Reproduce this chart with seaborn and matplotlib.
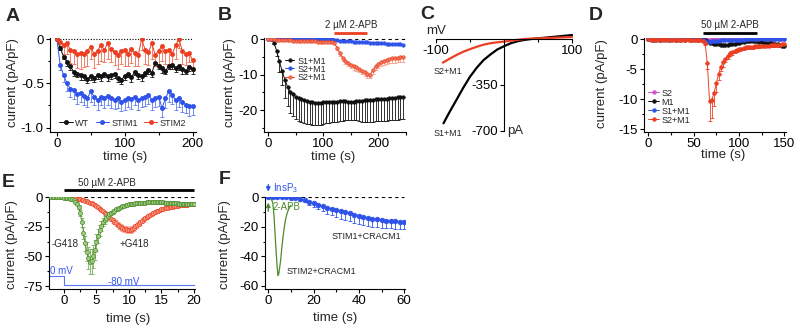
import numpy as np
import matplotlib
matplotlib.use('Agg')
import matplotlib.pyplot as plt
import seaborn as sns

# ---------------- data ----------------
# A: whole-cell current, 5 s sampling
tA = np.arange(0, 200.001, 5)
wt_A = [0.0, -0.10, -0.20, -0.26, -0.31, -0.37, -0.39, -0.41, -0.42, -0.45, -0.42, -0.44, -0.41, -0.42,
        -0.39, -0.42, -0.41, -0.39, -0.44, -0.46, -0.42, -0.39, -0.43, -0.37, -0.41, -0.42, -0.38, -0.35,
        -0.38, -0.27, -0.30, -0.33, -0.36, -0.30, -0.29, -0.33, -0.31, -0.34, -0.36, -0.32, -0.34]
wt_A_err = [0.0, 0.02, 0.03, 0.04, 0.04, 0.05, 0.04, 0.05, 0.04, 0.05, 0.04, 0.05, 0.04, 0.05, 0.04,
            0.05, 0.04, 0.05, 0.04, 0.05, 0.04, 0.04, 0.05, 0.04, 0.04, 0.05, 0.04, 0.04, 0.05, 0.04,
            0.04, 0.05, 0.04, 0.04, 0.05, 0.04, 0.04, 0.05, 0.04, 0.04, 0.05]
stim1_A = [0.0, -0.29, -0.41, -0.50, -0.56, -0.58, -0.62, -0.61, -0.64, -0.67, -0.59, -0.65, -0.69, -0.65,
           -0.67, -0.64, -0.67, -0.69, -0.67, -0.71, -0.69, -0.67, -0.68, -0.65, -0.69, -0.67, -0.65, -0.63,
           -0.69, -0.67, -0.65, -0.78, -0.67, -0.59, -0.63, -0.69, -0.67, -0.71, -0.74, -0.76, -0.76]
stim1_A_err = [0.0, 0.06, 0.08, 0.09, 0.10, 0.10, 0.11, 0.10, 0.11, 0.10, 0.12, 0.10, 0.11, 0.10, 0.11,
               0.10, 0.11, 0.10, 0.11, 0.10, 0.11, 0.10, 0.11, 0.10, 0.11, 0.10, 0.11, 0.10, 0.11, 0.10,
               0.11, 0.10, 0.11, 0.12, 0.10, 0.11, 0.10, 0.11, 0.10, 0.11, 0.10]
stim2_A = [0.0, -0.03, -0.07, -0.05, -0.12, -0.14, -0.17, -0.16, -0.17, -0.13, -0.09, -0.17, -0.13, -0.07,
           -0.12, -0.05, -0.11, -0.15, -0.18, -0.13, -0.12, -0.17, -0.11, -0.16, -0.18, 0.0, -0.12, -0.15,
           -0.05, -0.18, -0.13, -0.08, -0.14, -0.12, -0.17, -0.07, 0.0, -0.14, -0.17, -0.16, -0.24]
stim2_A_err = [0.0, 0.05, 0.10, 0.12, 0.15, 0.14, 0.16, 0.18, 0.15, 0.17, 0.14, 0.16, 0.15, 0.18, 0.14,
               0.17, 0.15, 0.14, 0.16, 0.15, 0.18, 0.14, 0.16, 0.15, 0.13, 0.12, 0.16, 0.14, 0.18, 0.13,
               0.15, 0.17, 0.14, 0.16, 0.12, 0.15, 0.10, 0.14, 0.12, 0.10, 0.12]

# B: 5 s sampling
tB = np.arange(0, 245.001, 5)
s1m1_B = [0.0, -0.1, -1.0, -3.3, -6.3, -9.0, -11.5, -13.5, -14.8, -15.6, -16.2, -16.6, -16.9, -17.2,
          -17.5, -17.7, -17.8, -17.9, -18.0, -17.9, -17.8, -17.7, -17.7, -17.6, -17.6, -17.6, -17.5,
          -17.5, -17.5, -17.6, -17.6, -17.6, -17.5, -17.5, -17.4, -17.3, -17.3, -17.2, -17.1, -17.0,
          -17.0, -16.9, -16.9, -16.8, -16.7, -16.6, -16.5, -16.4, -16.3, -16.2]
s1m1_B_err = [0.0, 0.1, 0.5, 1.5, 3.0, 4.0, 5.0, 5.5, 6.1, 6.2, 6.4, 6.4, 6.4, 6.4, 6.4, 6.3, 6.3, 6.2,
              6.2, 6.2, 6.1, 6.1, 6.0, 5.9, 5.8, 5.7, 5.6, 5.6, 5.4, 5.2, 5.1, 5.1, 5.3, 5.6, 5.9, 6.1,
              6.2, 6.2, 6.2, 6.2, 6.2, 6.2, 6.2, 6.2, 6.2, 6.2, 6.3, 6.3, 6.3, 6.3]
s2m1_B = [0.0, 0.0, 0.0, 0.0, 0.0, 0.0, 0.0, 0.0, 0.0, 0.0, 0.0, 0.0, 0.0,
          -0.1, -0.1, -0.1, -0.1, -0.1, -0.1, -0.1, -0.1, -0.1, -0.1, -0.1,
          -0.2, -0.3, -0.4, -0.5, -0.5, -0.6, -0.6, -0.7, -0.7, -0.8, -0.8, -0.9, -0.9, -1.0, -1.0,
          -1.1, -1.1, -1.2, -1.2, -1.3, -1.3, -1.4, -1.4, -1.5, -1.5, -1.6]
s2m1apb_B = [0.0, -0.1, -0.1, -0.2, -0.2, -0.2, -0.3, -0.3, -0.3, -0.4, -0.4, -0.4, -0.5, -0.5, -0.5,
             -0.6, -0.6, -0.6, -0.7, -0.7, -0.7, -0.8, -0.8, -0.9, -1.0,
             -2.5, -4.0, -5.2, -6.1, -6.7, -7.2, -7.6, -8.0, -8.4, -8.9, -9.4, -9.9, -10.0, -8.8, -7.7,
             -7.0, -6.5, -6.1, -5.8, -5.6, -5.4, -5.3, -5.2, -5.1, -5.0]
s2m1apb_B_err = [0.1, 0.1, 0.1, 0.1, 0.1, 0.1, 0.1, 0.1, 0.1, 0.1, 0.1, 0.1, 0.1, 0.1, 0.1, 0.1, 0.1,
                 0.1, 0.1, 0.1, 0.1, 0.1, 0.1, 0.1, 0.1,
                 0.5, 0.8, 1.0, 1.0, 1.0, 1.0, 1.0, 1.0, 1.0, 1.0, 1.0, 1.0, 1.0, 1.1, 1.1, 1.1, 1.1,
                 1.2, 1.2, 1.2, 1.2, 1.3, 1.3, 1.3, 1.4]
apb_B = [120, 180]

# C: current-voltage ramps
v_s1 = [-89, -80, -70, -60, -50, -40, -30, -20, -10, 0, 10, 20, 30, 40, 50, 60, 70, 80, 90, 100]
i_s1 = [-642, -555, -464, -372, -287, -218, -160, -118, -80, -55, -32, -17, -7, 0, 5, 10, 15, 20, 25, 30]
v_s2 = [-90, -80, -70, -60, -50, -40, -30, -20, -10, 0, 10, 20, 30, 40, 50, 60, 70, 80, 90, 100]
i_s2 = [-180, -150, -122, -97, -77, -59, -43, -32, -25, -20, -13, -6, 0, 3, 5, 7, 9, 11, 13, 15]

# D: 2.5 s sampling
tD = np.arange(0, 150.001, 2.5)
s2_D = [0.0, 0.0, 0.1, 0.0, 0.0, 0.0, 0.1, 0.0, 0.0, 0.0, 0.0, 0.1, 0.0, 0.0, 0.0, 0.0, 0.1, 0.0, 0.0,
        0.0, 0.0, 0.0, 0.1, 0.0,
        0.0, 0.0, 0.0, -0.1, 0.0, 0.0, 0.0, 0.0, 0.0, 0.1, 0.0, 0.0, 0.0, 0.0, 0.0, 0.0,
        0.0, 0.0, 0.1, 0.0, 0.0, 0.0, 0.0, 0.0, 0.0, 0.0, 0.1, 0.0, 0.0, 0.0, 0.0, 0.0, 0.0, 0.1, 0.0,
        0.0, 0.0]
m1_D = [0.0, 0.0, -0.1, 0.0, 0.0, -0.1, 0.0, 0.0, 0.0, -0.1, 0.0, 0.0, -0.1, 0.0, 0.0, 0.0, -0.1, 0.0,
        0.0, -0.1, 0.0, 0.0, -0.1, 0.0,
        -0.1, -0.2, -0.4, -0.6, -0.7, -0.8, -0.9, -0.9, -1.0, -1.0, -1.0, -1.0, -0.9, -0.9, -0.8, -0.7,
        -0.6, -0.5, -0.5, -0.4, -0.4, -0.4, -0.4, -0.4, -0.4, -0.5, -0.5, -0.6, -0.6, -0.7, -0.7, -0.8,
        -0.8, -0.9, -1.0, -1.1, -1.2]
s1m1_D = [0.0, 0.0, 0.0, -0.1, 0.0, 0.0, 0.0, 0.0, -0.1, 0.0, 0.0, 0.0, 0.0, 0.0, -0.1, 0.0, 0.0, 0.0,
          0.0, 0.0, -0.1, 0.0, 0.0, 0.0,
          -0.1, -0.3, -0.5, -0.5, -0.4, -0.3, -0.3, -0.3, -0.2, -0.2, -0.2, -0.2, -0.2, -0.1, -0.1, -0.1,
          -0.1, -0.1, -0.1, 0.0, 0.0, 0.0, 0.0, 0.0, 0.0, 0.0, 0.1, 0.0, 0.0, 0.0, 0.1, 0.0, 0.0, 0.0,
          0.0, 0.1, 0.0]
s2m1_D = [0.0, -0.1, 0.0, -0.1, -0.1, 0.0, -0.1, -0.1, 0.0, -0.1, -0.1, -0.1, 0.0, -0.1, -0.1, -0.1,
          -0.1, 0.0, -0.1, -0.1, -0.1, -0.2, -0.1, -0.2,
          -0.3, -0.6, -4.0, -10.4, -10.1, -9.0, -7.3, -5.8, -4.6, -3.9, -3.3, -2.8, -2.4, -2.2, -2.0, -1.8,
          -1.7, -1.6, -1.5, -1.4, -1.4, -1.3, -1.3, -1.2, -1.2, -1.2, -1.1, -1.1, -1.1, -1.1, -1.0, -1.0,
          -1.0, -1.0, -1.0, -0.9, -0.9]
s2m1_D_err = [0.1, 0.1, 0.1, 0.1, 0.1, 0.1, 0.1, 0.1, 0.1, 0.1, 0.1, 0.1, 0.1, 0.1, 0.1, 0.1, 0.1, 0.1,
              0.1, 0.1, 0.1, 0.1, 0.1, 0.1,
              0.2, 0.4, 1.0, 3.3, 3.0, 2.2, 1.5, 1.0, 0.8, 0.7, 0.6, 0.5, 0.5, 0.4, 0.4, 0.4,
              0.3, 0.3, 0.3, 0.3, 0.3, 0.3, 0.3, 0.3, 0.3, 0.3, 0.3, 0.3, 0.3, 0.3, 0.3, 0.3, 0.3, 0.3,
              0.3, 0.3, 0.3]
apb_D = [60, 120]

# E: 0.25 s sampling
tE_g = np.arange(-2, 20.001, 0.25)
noG418 = [0.0, 0.1, 0.0, 0.0, 0.1, 0.0, 0.0, -0.1, -0.2,
          -0.3, -0.5, -0.8, -1.2, -1.8, -2.6, -3.8, -5.5,
          -8.5, -13.5, -21.0, -30.0, -39.0, -46.0, -51.5, -54.5,
          -54.0, -50.0, -44.5, -38.0, -33.0, -28.0, -24.0, -21.0,
          -19.0, -17.5, -16.0, -14.5, -13.3, -12.2, -11.2, -10.3,
          -9.5, -8.8, -8.2, -7.6, -7.1, -6.7, -6.3, -6.0,
          -5.7, -5.5, -5.3, -5.1, -5.0, -4.9, -4.8, -4.7,
          -4.6, -4.5, -4.4, -4.3, -4.3, -4.2, -4.2, -4.2,
          -4.2, -4.3, -4.3, -4.4, -4.4, -4.5, -4.5, -4.6,
          -4.7, -4.8, -4.9, -5.0, -5.1, -5.2, -5.3, -5.4,
          -5.5, -5.5, -5.6, -5.6, -5.7, -5.7, -5.7, -5.8]
noG418_err = [0.3, 0.3, 0.3, 0.3, 0.3, 0.3, 0.3, 0.3, 0.3,
              0.3, 0.3, 0.3, 0.4, 0.5, 0.6, 0.8, 1.2,
              1.8, 2.6, 3.8, 5.0, 6.5, 8.0, 9.5, 10.5,
              10.5, 9.5, 8.5, 7.0, 6.0, 5.0, 4.2, 3.6,
              3.2, 2.8, 2.5, 2.2, 2.0, 1.8, 1.6, 1.5,
              1.4, 1.3, 1.2, 1.1, 1.1, 1.0, 1.0, 1.0,
              1.0, 0.9, 0.9, 0.9, 0.9, 0.9, 0.9, 0.9,
              0.9, 0.9, 0.9, 0.9, 0.9, 0.9, 0.9, 0.9,
              0.9, 0.9, 0.9, 0.9, 0.9, 0.9, 0.9, 0.9,
              0.9, 0.9, 0.9, 0.9, 0.9, 0.9, 0.9, 0.9,
              0.9, 0.9, 0.9, 0.9, 0.9, 0.9, 0.9, 0.9]
tE_r = np.arange(0, 20.001, 0.25)
withG418 = [0.0, 0.0, -0.1, -0.2, -0.3, -0.5, -0.7, -0.9, -1.1,
            -1.4, -1.7, -2.0, -2.4, -2.8, -3.3, -3.9, -4.5,
            -5.1, -5.8, -6.6, -7.5, -8.5, -9.6, -10.8, -12.0,
            -13.2, -14.5, -15.8, -17.0, -18.3, -19.5, -20.7, -21.8,
            -23.0, -24.0, -25.0, -25.8, -26.5, -27.0, -27.4, -27.5,
            -27.3, -26.7, -25.8, -24.6, -23.4, -22.2, -21.0, -19.8,
            -18.7, -17.6, -16.6, -15.6, -14.7, -13.9, -13.1, -12.4,
            -11.8, -11.2, -10.7, -10.2, -9.8, -9.4, -9.0, -8.7,
            -8.4, -8.1, -7.8, -7.6, -7.3, -7.1, -6.9, -6.7,
            -6.5, -6.4, -6.2, -6.1, -6.0, -5.9, -5.8, -5.7]
withG418_err = [0.2, 0.2, 0.2, 0.2, 0.2, 0.2, 0.2, 0.2, 0.2,
                0.3, 0.3, 0.3, 0.4, 0.4, 0.5, 0.5, 0.6,
                0.6, 0.7, 0.8, 0.9, 1.0, 1.1, 1.2, 1.3,
                1.4, 1.5, 1.7, 1.8, 1.9, 2.0, 2.1, 2.2,
                2.3, 2.4, 2.5, 2.6, 2.6, 2.7, 2.7, 2.7,
                2.7, 2.6, 2.5, 2.4, 2.3, 2.2, 2.1, 2.0,
                1.9, 1.8, 1.7, 1.6, 1.5, 1.4, 1.4, 1.3,
                1.2, 1.2, 1.1, 1.1, 1.0, 1.0, 0.9, 0.9,
                0.9, 0.8, 0.8, 0.8, 0.7, 0.7, 0.7, 0.7,
                0.6, 0.6, 0.6, 0.6, 0.6, 0.6, 0.6, 0.6]
apb_E = [0, 20]
vstep_t = [-2.3, 0, 20.2]
vstep_level = [-66.5, -74]

# F
tF = np.arange(0, 60.001, 2)
stim1_F = [0.0, 0.0, 0.0, 0.0, 0.0, -0.2, -0.6, -1.2, -2.0, -2.9, -4.0, -5.0, -6.0, -7.0, -7.8, -8.6,
           -9.4, -10.1, -10.9, -11.7, -12.4, -13.2, -13.9, -14.5, -15.0, -15.4, -15.8, -16.1, -16.4,
           -16.6, -16.8]
stim1_F_err = [0, 0, 0, 0, 0.1, 0.3, 0.6, 1.0, 1.5, 2.0, 2.5, 3.0, 3.5, 4.0, 4.4, 4.8, 5.1, 5.3, 5.5,
               5.6, 5.6, 5.6, 5.5, 5.4, 5.3, 5.1, 5.0, 4.9, 4.8, 4.7, 4.6]
t_stim2_F = [0, 0.5, 1.0, 1.5, 2.0, 2.5, 3.0, 3.5, 4.0, 4.3, 4.6, 5.0, 5.5, 6.0, 6.5, 7.0, 7.5, 8.0,
             8.5, 9.0, 9.5, 10.0]
stim2_F = [0, -0.3, -0.8, -1.8, -4, -12, -25, -38, -49, -53, -52, -48, -42, -34, -27, -21, -16, -12.5,
           -10, -8, -6.5, -5.5]

for a, b in [(tA, wt_A), (tA, stim1_A), (tA, stim2_A), (tA, wt_A_err), (tA, stim1_A_err), (tA, stim2_A_err),
             (tB, s1m1_B), (tB, s1m1_B_err), (tB, s2m1_B), (tB, s2m1apb_B), (tB, s2m1apb_B_err),
             (tD, s2_D), (tD, m1_D), (tD, s1m1_D), (tD, s2m1_D), (tD, s2m1_D_err),
             (tE_g, noG418), (tE_g, noG418_err), (tE_r, withG418), (tE_r, withG418_err),
             (tF, stim1_F), (tF, stim1_F_err), (t_stim2_F, stim2_F)]:
    assert len(a) == len(b), (len(a), len(b))

# ---------------- style ----------------
sns.set_theme(style='ticks')
plt.rcParams['font.family'] = ['Liberation Sans', 'DejaVu Sans']
plt.rcParams.update({
    'axes.unicode_minus': False, 'mathtext.fontset': 'custom', 'mathtext.rm': 'Liberation Sans',
    'mathtext.default': 'regular',
    'axes.linewidth': 0.8, 'axes.edgecolor': 'black',
    'xtick.color': 'black', 'ytick.color': 'black',
    'xtick.major.width': 0.8, 'ytick.major.width': 0.8, 'xtick.minor.width': 0.8, 'ytick.minor.width': 0.8,
    'xtick.major.size': 3, 'ytick.major.size': 3, 'xtick.minor.size': 1.8, 'ytick.minor.size': 1.8,
    'xtick.major.pad': 1.5, 'ytick.major.pad': 1.5,
    'xtick.labelsize': 9.5, 'ytick.labelsize': 9.5,
})

BLACK = '#111111'
BLUE = '#2f52e8'
RED = '#ec3f22'
PINK = '#f4a08c'
MAGENTA = '#cc55cc'
GREEN = '#4c8a2c'
LGREEN = '#9fcb80'
SMALL = 6.5

fig = plt.figure(figsize=(8, 3.29), dpi=100)


def px_axes(l, t, r, b):
    return fig.add_axes([l / 800, 1 - b / 329, (r - l) / 800, (b - t) / 329])


def frame(ax, xlim, ylim, xmaj, xmin, ymaj, ymin, ylabels=None):
    ax.set_xlim(xlim)
    ax.set_ylim(ylim)
    ax.set_xticks(xmaj)
    ax.set_xticks(xmin, minor=True)
    ax.set_yticks(ymaj)
    ax.set_yticks(ymin, minor=True)
    ax.set_xticklabels([f'{v:g}' for v in xmaj])
    ax.set_yticklabels(ylabels or [f'{v:g}' for v in ymaj])
    sns.despine(ax=ax)
    ax.patch.set_alpha(0)


def labels(ax, ypos, xpos):
    ax.set_ylabel('current (pA/pF)', fontsize=9.5, va='center')
    ax.yaxis.set_label_coords(*ypos)
    ax.set_xlabel('time (s)', fontsize=9.5, va='center')
    ax.xaxis.set_label_coords(*xpos)


def trace(ax, t, y, err=None, color=BLACK, ecolor=None, face=None, ms=3, lw=0.7, label=None,
          sym=False, z=3):
    t = np.asarray(t, float)
    y = np.asarray(y, float)
    if err is not None:
        e = np.asarray(err, float)
        ax.errorbar(t, y, yerr=[e, e if sym else np.zeros_like(e)], fmt='none',
                    ecolor=ecolor or color, elinewidth=0.6, capsize=1.2, capthick=0.6, zorder=z - 0.5)
    sns.lineplot(x=t, y=y, ax=ax, color=color, linewidth=lw, marker='o', markersize=ms,
                 markerfacecolor=face or color, markeredgecolor=color, markeredgewidth=0.5,
                 label=label, legend=False, zorder=z)


def drug_bar(ax, span, ybar, text, xtext, ytext, color='black'):
    tr = ax.get_xaxis_transform()
    ax.plot(span, [ybar, ybar], color=color, lw=2, transform=tr, clip_on=False, solid_capstyle='butt')
    ax.text(xtext, ytext, text, transform=tr, ha='center', va='center', fontsize=7)


# ---------------- A ----------------
axA = px_axes(50, 37.7, 196, 132)
axA.hlines(0, tA[0], tA[-1], colors='black', linestyles=(0, (1, 1.5)), lw=0.8)
trace(axA, tA, wt_A, wt_A_err, BLACK, label='WT')
trace(axA, tA, stim1_A, stim1_A_err, BLUE, '#5b78f0', label='STIM1')
trace(axA, tA, stim2_A, stim2_A_err, RED, '#ee6a50', label='STIM2')
frame(axA, (-10, 205), (-1.05, 0.015), [0, 100, 200], [50, 150], [0, -0.5, -1.0], [-0.25, -0.75],
      ['0', '-0.5', '-1.0'])
labels(axA, (-0.253, 0.52), (0.514, -0.265))
axA.legend(ncol=3, loc='center', bbox_to_anchor=(0.5, 0.095), frameon=False, fontsize=SMALL,
           handlelength=1.45, handletextpad=0.3, columnspacing=0.7, borderpad=0, borderaxespad=0)

# ---------------- B ----------------
axB = px_axes(264, 37.7, 405.8, 132)
axB.hlines(0, tB[0], 250, colors='black', linestyles=(0, (3, 3)), lw=0.8)
trace(axB, tB, s1m1_B, s1m1_B_err, BLACK, ms=2.5, label='S1+M1')
trace(axB, tB, s2m1_B, None, BLUE, ms=2.5, label='S2+M1')
trace(axB, tB, s2m1apb_B, s2m1apb_B_err, RED, PINK, face='#f07a60', ms=2.5, label='S2+M1')
frame(axB, (-8, 250), (-26.2, 0.4), [0, 100, 200], [50, 150, 250], [0, -10, -20], [-5, -15, -25])
labels(axB, (-0.24, 0.52), (0.489, -0.26))
axB.legend(loc='upper left', bbox_to_anchor=(0.148, 0.8), frameon=False, fontsize=SMALL,
           handlelength=1.0, handletextpad=0.35, labelspacing=-0.1, borderpad=0, borderaxespad=0)
drug_bar(axB, apb_B, 1.047, '2 µM 2-APB', 150, 1.135)
axB.lines[-1].set_color(RED)

# ---------------- C ----------------
axC = px_axes(436, 33.1, 573.4, 131.6)
sns.lineplot(x=v_s1, y=i_s1, ax=axC, color='black', lw=1.6, sort=False)
sns.lineplot(x=v_s2, y=i_s2, ax=axC, color=RED, lw=1.6, sort=False)
axC.set_xlim(-100, 102)
axC.set_ylim(-705, 45)
axC.spines[['top', 'right']].set_visible(False)
axC.spines['left'].set_position(('data', 0))
axC.spines['bottom'].set_position(('data', 0))
axC.spines['left'].set_bounds(-700, 0)
axC.spines['bottom'].set_bounds(-100, 100)
axC.set_xticks([-100, 100])
axC.set_xticklabels(['-100', '100'])
axC.set_xticks([-50, 50], minor=True)
axC.set_yticks([-350, -700])
axC.set_yticklabels(['-350', '-700'])
axC.patch.set_alpha(0)
axC.annotate('mV', (-100, 0), xytext=(0, 1.5), textcoords='offset points', ha='center', va='bottom',
             fontsize=9.5)
axC.annotate('pA', (0, -700), xytext=(2.5, 0), textcoords='offset points', ha='left', va='center',
             fontsize=9.5, annotation_clip=False)
axC.text(-83, -249, 'S2+M1', ha='center', va='center', fontsize=SMALL)
axC.text(-83, -718, 'S1+M1', ha='center', va='center', fontsize=SMALL)

# ---------------- D ----------------
axD = px_axes(643.8, 37.7, 786.2, 132)
trace(axD, tD, s2_D, None, MAGENTA, ms=2.6, label='S2')
trace(axD, tD, m1_D, None, BLACK, ms=2.6, label='M1')
trace(axD, tD, s1m1_D, None, BLUE, ms=2.6, label='S1+M1')
trace(axD, tD, s2m1_D, s2m1_D_err, RED, ms=2.6, label='S2+M1')
frame(axD, (-5, 152), (-15.5, 0.22), [0, 50, 100, 150], [25, 75, 125], [0, -5, -10, -15],
      [-2.5, -7.5, -12.5])
labels(axD, (-0.296, 0.515), (0.558, -0.244))
axD.legend(loc='upper left', bbox_to_anchor=(0.03, 0.46), frameon=False, fontsize=SMALL,
           handlelength=1.25, handletextpad=0.25, labelspacing=0.0, borderpad=0, borderaxespad=0)
drug_bar(axD, apb_D, 1.047, '50 µM 2-APB', 90, 1.135)

# ---------------- E ----------------
axE = px_axes(49, 196.7, 195.3, 289)
axE.hlines(0, 0, 20, colors='black', linestyles=(0, (3, 3)), lw=0.8)
trace(axE, tE_r, withG418, withG418_err, RED, PINK, face='#f59a84', ms=3, lw=0.6, sym=True)
trace(axE, tE_g, noG418, noG418_err, GREEN, '#7aae5a', face=LGREEN, ms=3, lw=0.6, sym=True, z=4)
axE.step(vstep_t, [vstep_level[0], vstep_level[1], vstep_level[1]], where='post', color='#5a78f0', lw=0.8)
frame(axE, (-2.3, 20.2), (-77.5, 0.5), [0, 5, 10, 15, 20], [2.5, 7.5, 12.5, 17.5], [0, -25, -50, -75],
      [-12.5, -37.5, -62.5])
labels(axE, (-0.255, 0.477), (0.542, -0.325))
drug_bar(axE, apb_E, 1.073, '50 µM 2-APB', 6.6, 1.148)
axE.text(2.2, -39.7, '-G418', ha='right', va='center', fontsize=7)
axE.text(8.6, -39.7, '+G418', ha='left', va='center', fontsize=7)
axE.text(-2.1, -62.3, '0 mV', ha='left', va='center', fontsize=7, color='#3355ee')
axE.text(9.2, -71.3, '-80 mV', ha='center', va='center', fontsize=7, color='#3355ee')

# ---------------- F ----------------
axF = px_axes(264.9, 196.7, 405.3, 289)
axF.hlines(0, 0, 60, colors='black', linestyles=(0, (3, 3)), lw=0.8)
sns.lineplot(x=t_stim2_F, y=stim2_F, ax=axF, color=GREEN, lw=0.9, sort=False)
trace(axF, tF, stim1_F, stim1_F_err, BLUE, ms=3.4, lw=0.7)
frame(axF, (-1.5, 60.5), (-62.2, 0.4), [0, 20, 40, 60], [10, 30, 50], [0, -20, -40, -60],
      [-10, -30, -50])
labels(axF, (-0.284, 0.477), (0.499, -0.311))
axF.annotate('', xy=(0, 3.8), xytext=(0, 8.6), annotation_clip=False,
             arrowprops=dict(arrowstyle='-|>', color=BLUE, lw=1, mutation_scale=6, shrinkA=0, shrinkB=0))
axF.text(1.9, 6.3, 'InsP$_3$', ha='left', va='center', fontsize=7, color=BLUE)
axF.annotate('', xy=(0, -3.6), xytext=(0, -9.5), annotation_clip=False,
             arrowprops=dict(arrowstyle='-|>', color=GREEN, lw=1, mutation_scale=6, shrinkA=0, shrinkB=0))
axF.text(1.9, -6.4, '2-APB', ha='left', va='center', fontsize=7, color=GREEN)
axF.text(43.4, -26.7, 'STIM1+CRACM1', ha='center', va='center', fontsize=SMALL)
axF.text(23.5, -50, 'STIM2+CRACM1', ha='center', va='center', fontsize=SMALL)

# panel letters
for letter, x, y in [('A', 12.5, 16.7), ('B', 225, 15), ('C', 427.5, 14.5), ('D', 596, 15),
                     ('E', 8, 182.5), ('F', 225, 179.5)]:
    fig.text(x / 800, 1 - y / 329, letter, fontsize=14, fontweight='bold', ha='center', va='center')

fig.savefig('out.png', dpi=100)
